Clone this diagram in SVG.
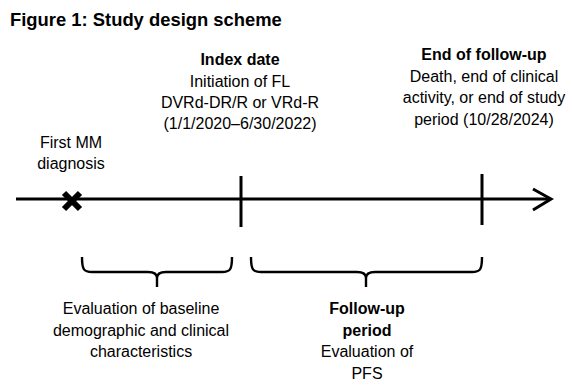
<svg xmlns="http://www.w3.org/2000/svg" width="572" height="392" viewBox="0 0 572 392">
<style>
text{font-family:"Liberation Sans",Arial,sans-serif;fill:#000;}
.t{font-size:16px;text-anchor:middle;}
.b{font-weight:bold;}
.title{font-size:18.4px;font-weight:bold;}
.ln{stroke:#000;stroke-width:3;fill:none;}
.br{stroke:#000;stroke-width:2.4;fill:none;}
</style>
<rect width="572" height="392" fill="#fff"/>
<text class="title" x="10" y="26">Figure 1: Study design scheme</text>

<g id="connectors">
  <line class="ln" x1="16" y1="199" x2="550" y2="199"/>
  <polyline class="ln" points="533,189 551,199 533,210" stroke-width="3.5"/>
</g>

<g id="first-mm">
  <text class="t" x="71" y="148">First MM</text>
  <text class="t" x="71" y="169">diagnosis</text>
  <line x1="64" y1="193" x2="80" y2="209" stroke="#000" stroke-width="6"/>
  <line x1="80" y1="193" x2="64" y2="209" stroke="#000" stroke-width="6"/>
</g>

<g id="index-date">
  <text class="t b" x="240" y="65">Index date</text>
  <text class="t" x="240" y="86.5">Initiation of FL</text>
  <text class="t" x="240" y="108">DVRd-DR/R or VRd-R</text>
  <text class="t" x="240" y="129">(1/1/2020–6/30/2022)</text>
  <line class="ln" x1="241" y1="176" x2="241" y2="227"/>
</g>

<g id="end-follow-up">
  <text class="t b" x="484" y="60">End of follow-up</text>
  <text class="t" x="484" y="81.5">Death, end of clinical</text>
  <text class="t" x="484" y="103">activity, or end of study</text>
  <text class="t" x="484" y="124.5">period (10/28/2024)</text>
  <line class="ln" x1="482" y1="174" x2="482" y2="225"/>
</g>

<g id="baseline">
  <path class="br" d="M82,257 C82,270 84,272 92,272 L148,272 C154,272 157,274 157,278 L157,287 M157,278 C157,274 160,272 166,272 L222,272 C230,272 232,270 232,257"/>
  <text class="t" x="141" y="314">Evaluation of baseline</text>
  <text class="t" x="141" y="335.5">demographic and clinical</text>
  <text class="t" x="141" y="357">characteristics</text>
</g>

<g id="follow-up-period">
  <path class="br" d="M251,257 C251,270 253,272 261,272 L357,272 C363,272 366,274 366,278 L366,287 M366,278 C366,274 369,272 375,272 L472,272 C480,272 482,270 482,257"/>
  <text class="t b" x="367" y="314">Follow-up</text>
  <text class="t b" x="367" y="335.5">period</text>
  <text class="t" x="367" y="357">Evaluation of</text>
  <text class="t" x="367" y="378.5">PFS</text>
</g>
</svg>
